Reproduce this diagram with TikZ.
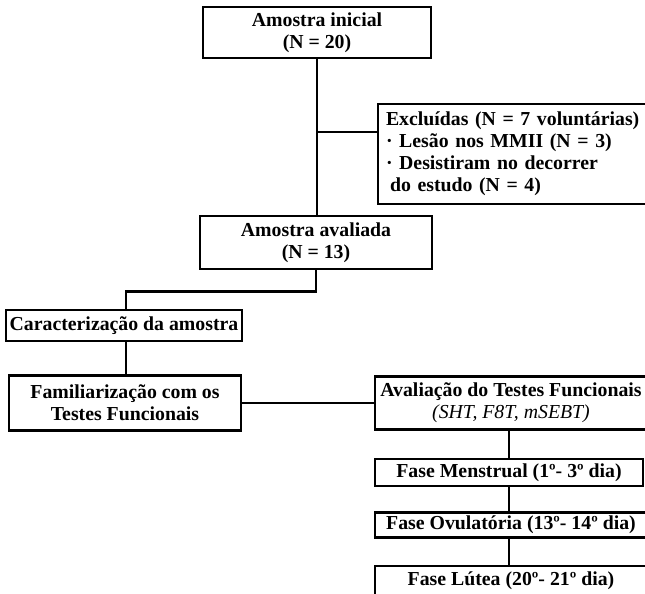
\documentclass[tikz,border=0pt]{standalone}
\usepackage{fontspec}
\setmainfont{Liberation Serif}

\begin{document}
\begin{tikzpicture}[x=1pt,y=-1pt,line width=2.6pt,
	caixa/.style={draw,align=center,inner sep=0pt,font=\bfseries\fontsize{19.8}{22}\selectfont}]
	
	\clip (0,0) rectangle (645,594);
	
	\node[caixa,minimum width=228,minimum height=51] (ini) at (317,32.5) {Amostra inicial\\(N = 20)};
	\node[caixa,align=left,text width=264,inner xsep=8,minimum height=100] (exc) at (518,154)
		{Excluídas (N = 7 voluntárias)\\· Lesão nos MMII (N = 3)\\· Desistiram no decorrer\\\hspace*{4pt}do estudo (N = 4)};
	\node[caixa,minimum width=232,minimum height=53] (aval) at (316,242.5) {Amostra avaliada\\(N = 13)};
	\node[caixa,minimum width=236,minimum height=31] (car) at (124,325.5) {Caracterização da amostra};
	\node[caixa,minimum width=232,minimum height=55] (fam) at (125,403) {Familiarização com os\\Testes Funcionais};
	\node[caixa,minimum width=272,minimum height=53] (av) at (511,403)
		{Avaliação do Testes Funcionais\\{\normalfont\itshape (SHT, F8T, mSEBT)}};
	\node[caixa,minimum width=268,minimum height=27] (men) at (509,472.5) {Fase Menstrual (1º- 3º dia)};
	\node[caixa,minimum width=272,minimum height=25] (ovu) at (511,525) {Fase Ovulatória (13º- 14º dia)};
	\node[caixa,minimum width=272,minimum height=30] (lut) at (511,581) {Fase Lútea (20º- 21º dia)};
	
	\coordinate (j1) at (317,132);
	\draw (ini.south) -- (ini.south |- aval.north);
	\draw (j1) -- (j1 -| exc.west);
	\draw (aval.south) -- ++(0,21) -| ([xshift=2pt]car.north);
	\draw ([xshift=2pt]car.south) -- ([xshift=2pt]car.south |- fam.north);
	\draw (fam.east) -- (av.west);
	\draw (men.north |- av.south) -- (men.north);
	\draw (men.south) -- (men.south |- ovu.north);
	\draw (men.south |- ovu.south) -- (men.south |- lut.north);
	
\end{tikzpicture}
\end{document}
